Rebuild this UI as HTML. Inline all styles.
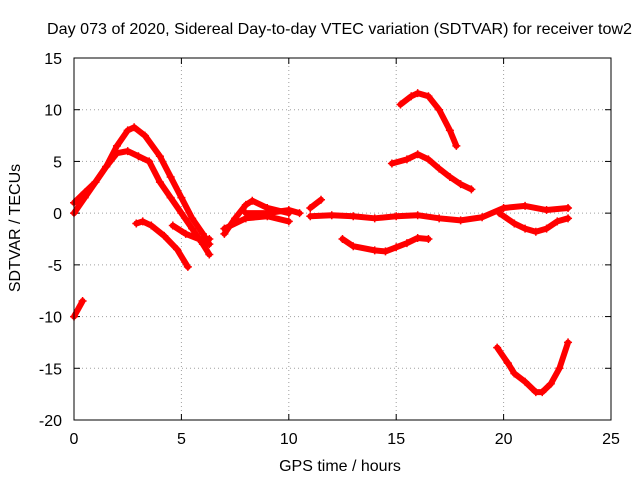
<!DOCTYPE html>
<html><head><meta charset="utf-8">
<style>
body{margin:0;background:#fff;}
svg{display:block;font-family:"Liberation Sans",sans-serif;}
</style></head>
<body>
<svg id="chart" width="640" height="480">
<text x="47" y="34" font-size="16" textLength="585" lengthAdjust="spacingAndGlyphs">Day 073 of 2020, Sidereal Day-to-day VTEC variation (SDTVAR) for receiver tow2</text>
<text x="340" y="471" text-anchor="middle" font-size="16">GPS time / hours</text>
<text transform="translate(20,228) rotate(-90)" text-anchor="middle" font-size="16">SDTVAR / TECUs</text>
<g id="grid"></g><g id="marks"></g>
<rect x="74" y="58" width="537" height="362" fill="none" stroke="#000" stroke-width="1"/>
</svg>
<script>
const xTicks=[0,5,10,15,20,25];
const yTicks=[15,10,5,0,-5,-10,-15,-20];
const s1=[[0,1],[0.5,2],[1,3],[1.5,4.5],[2,6.5],[2.5,8],[2.8,8.3],[3.3,7.5],[4,5.5],[4.5,3.5],[5,1.5],[5.5,-0.5],[6,-2],[6.3,-3]];
const s2=[[0,0],[0.5,1.5],[1,3],[1.5,4.5],[2,5.8],[2.5,6],[3,5.5],[3.5,5],[4,3],[4.5,1.5],[5,0],[5.5,-1.5],[6,-3],[6.3,-4]];
const s3=[[2.9,-1],[3.2,-0.8],[3.6,-1.2],[4.2,-2.2],[4.8,-3.5],[5.3,-5.2]];
const s4=[[4.6,-1.2],[5.2,-2],[5.8,-2.5],[6.3,-2.5]];
const s5=[[0,-10],[0.4,-8.5]];
const s6=[[7,-2],[7.5,-0.5],[8,0.8],[8.3,1.2],[9,0.5],[10,0]];
const s7=[[7,-1.5],[8,-0.5],[9,-0.3],[10,-0.8]];
const s8=[[8,0],[9,0],[10,0.3],[10.5,0]];
const s9=[[11,0.5],[11.5,1.3]];
const s10=[[11,-0.3],[12,-0.2],[13,-0.3],[14,-0.5],[15,-0.3],[16,-0.2],[17,-0.5],[18,-0.7],[19,-0.4],[20,0.5],[21,0.7],[22,0.3],[23,0.5]];
const s11=[[12.5,-2.5],[13,-3.2],[14,-3.6],[14.5,-3.7],[15,-3.3],[15.5,-2.9],[16,-2.4],[16.5,-2.5]];
const s12=[[15.2,10.5],[15.7,11.3],[16,11.6],[16.5,11.3],[17,10],[17.5,8],[17.8,6.5]];
const s13=[[14.8,4.8],[15.5,5.2],[16,5.7],[16.5,5.2],[17,4.3],[17.5,3.5],[18,2.8],[18.5,2.3]];
const s14=[[19.8,0],[20.5,-1],[21,-1.5],[21.5,-1.8],[22,-1.5],[22.5,-0.8],[23,-0.5]];
const s15=[[19.7,-13],[20.2,-14.5],[20.5,-15.5],[21,-16.3],[21.5,-17.3],[21.8,-17.3],[22.2,-16.5],[22.6,-15],[23,-12.5]];
const allSeries=[s1,s2,s3,s4,s5,s6,s7,s8,s9,s10,s11,s12,s13,s14,s15];
const NS="http://www.w3.org/2000/svg";
const X=v=>74+v*(537/25);
const Y=v=>58+(15-v)*(362/35);
const grid=document.getElementById('grid'),marks=document.getElementById('marks');
function mk(tag,attrs,parent){const e=document.createElementNS(NS,tag);for(const k in attrs)e.setAttribute(k,attrs[k]);parent.appendChild(e);return e;}
xTicks.forEach(t=>{
 if(t>0&&t<25){const g=mk('line',{x1:X(t),x2:X(t),y1:58,y2:420,stroke:'#a0a0a0','stroke-dasharray':'1,3'},grid);
 
 }
 mk('line',{x1:X(t),x2:X(t),y1:420,y2:414,stroke:'#000'},grid);
 mk('line',{x1:X(t),x2:X(t),y1:58,y2:64,stroke:'#000'},grid);
 const l=mk('text',{x:X(t),y:444,'text-anchor':'middle','font-size':16},grid);l.textContent=t;
 
 
});
yTicks.forEach(t=>{
 if(t<15&&t>-20){const g=mk('line',{x1:74,x2:611,y1:Y(t),y2:Y(t),stroke:'#a0a0a0','stroke-dasharray':'1,3'},grid);
 
 }
 mk('line',{x1:74,x2:80,y1:Y(t),y2:Y(t),stroke:'#000'},grid);
 mk('line',{x1:605,x2:611,y1:Y(t),y2:Y(t),stroke:'#000'},grid);
 const l=mk('text',{x:62,y:Y(t)+6,'text-anchor':'end','font-size':16},grid);l.textContent=t;
 
 
});
allSeries.forEach((s,i)=>{
 const p=mk('polyline',{points:s.map(d=>X(d[0])+','+Y(d[1])).join(' '),fill:'none',stroke:'#f00','stroke-width':6,'stroke-linejoin':'round','stroke-linecap':'round'},marks);
 
 
 s.forEach(d=>{
  const c=mk('path',{d:`M${X(d[0])-4},${Y(d[1])}h8M${X(d[0])},${Y(d[1])-4}v8`,stroke:'#f00','stroke-width':1.5},marks);
  
  
 });
});
</script>
</body></html>
